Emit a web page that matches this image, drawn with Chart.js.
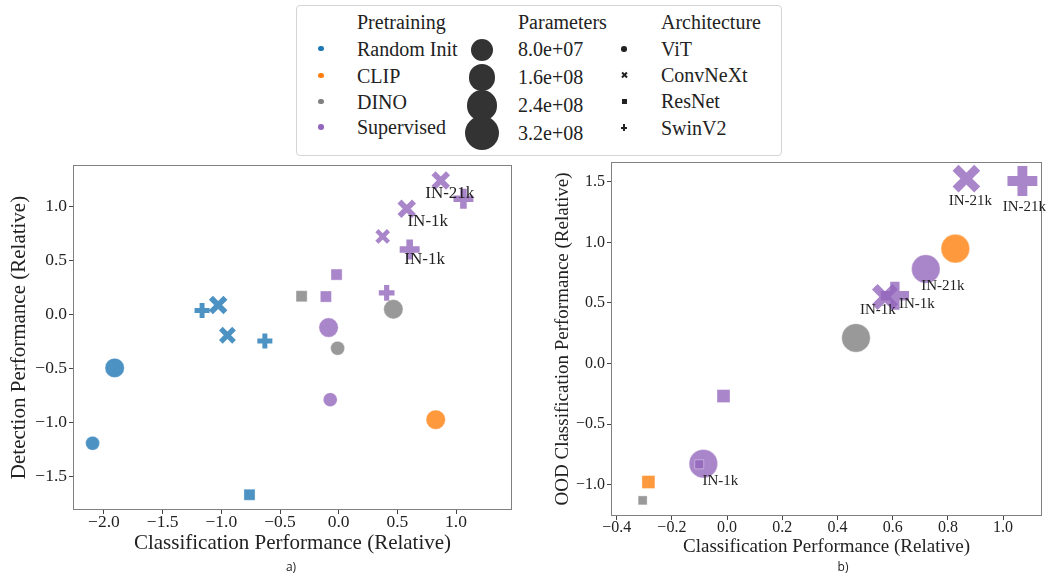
<!DOCTYPE html>
<html>
<head>
<meta charset="utf-8">
<title>Pretraining vs. performance</title>
<script src="https://cdn.jsdelivr.net/npm/chart.js@4.4.1/dist/chart.umd.min.js"></script>
<style>
  body { margin: 0; width: 1054px; height: 579px; position: relative; overflow: hidden; background: #fff; color: #222; font-family: "Liberation Serif", serif; }
  canvas, .abs { position: absolute; }
  #legend-box { left: 296px; top: 5px; width: 486px; height: 151px; border: 1px solid #d5d5d5; border-radius: 4px; box-sizing: border-box; }
  .lt { position: absolute; font-size: 20px; line-height: 20px; white-space: nowrap; }
  .cap { position: absolute; font-family: "Open Sans", sans-serif; font-size: 12px; line-height: 12px; transform: translateX(-50%); }
</style>
</head>
<body>
<div id="legend-box" class="abs"></div>
<canvas id="chart-a" width="525" height="400" style="left:0;top:160px"></canvas>
<canvas id="chart-b" width="524" height="400" style="left:530px;top:160px"></canvas>
<div class="cap" style="left:291px;top:561px">a)</div>
<div class="cap" style="left:843px;top:561px">b)</div>
<script>
const pretrainings = ["Random Init", "CLIP", "DINO", "Supervised"];
const pretrainColors = ["31,119,180", "255,127,14", "127,127,127", "148,103,189"];
const architectures = ["ViT", "ConvNeXt", "ResNet", "SwinV2"];
const paramSizes = [8.0e7, 1.6e8, 2.4e8, 3.2e8];

// a) classification vs detection
const aCls = [-2.097, -1.909, -1.027, -0.948, -1.164, -0.629, -0.760, -0.316, 0.466, -0.009, 0.827, -0.018, -0.109, -0.086, -0.072, 0.409, 0.375, 0.580, 0.605, 0.870, 1.063];
const aDet = [-1.190, -0.494, 0.088, -0.192, 0.036, -0.245, -1.665, 0.168, 0.048, -0.312, -0.972, 0.368, 0.165, -0.121, -0.787, 0.199, 0.720, 0.975, 0.600, 1.237, 1.068];
const aPretrain = [0, 0, 0, 0, 0, 0, 0, 2, 2, 2, 1, 3, 3, 3, 3, 3, 3, 3, 3, 3, 3];
const aArch = [0, 0, 1, 1, 3, 3, 2, 2, 0, 0, 0, 2, 2, 0, 0, 3, 1, 1, 3, 1, 3];
const aParams = [22, 86, 89, 65, 28, 28, 25, 25, 86, 22, 86, 25, 25, 86, 22, 35, 39, 89, 86, 89, 86]; // millions
const aTags = ["", "", "", "", "", "", "", "", "", "", "", "", "", "", "", "", "", "IN-1k", "IN-1k", "IN-21k", ""];
const aXTicks = [-2.0, -1.5, -1.0, -0.5, 0.0, 0.5, 1.0];
const aYTicks = [-1.5, -1.0, -0.5, 0.0, 0.5, 1.0];

// b) classification vs OOD classification
const bCls = [0.867, 1.070, 0.720, 0.572, 0.608, -0.013, -0.086, -0.101, 0.827, -0.285, 0.467, -0.306];
const bOod = [1.528, 1.508, 0.781, 0.550, 0.560, -0.269, -0.828, -0.833, 0.949, -0.979, 0.211, -1.131];
const bPretrain = [3, 3, 3, 3, 3, 3, 3, 3, 1, 1, 2, 2];
const bArch = [1, 3, 0, 1, 3, 2, 0, 2, 0, 2, 0, 2];
const bParams = [89, 88, 86, 80, 80, 38, 86, 25, 86, 38, 86, 25];
const bTags = ["IN-21k", "IN-21k", "IN-21k", "IN-1k", "IN-1k", "", "IN-1k", "", "", "", "", ""];
const bXTicks = [-0.4, -0.2, 0.0, 0.2, 0.4, 0.6, 0.8, 1.0];
const bYTicks = [-1.0, -0.5, 0.0, 0.5, 1.0, 1.5];

const SERIF = "'Liberation Serif', 'Times New Roman', serif";
const STYLES = ["circle", "crossRot", "rect", "cross"];
const SHAPE_K = [1, 1.05, 1.1, 1.03];
Chart.defaults.font.family = SERIF;
Chart.defaults.color = "#222";

// label nudges (px) so the tags sit like in the paper figure
const aNudge = { 17: [21, 13], 18: [15, 10], 19: [9, 13] };
const bNudge = { 0: [4, 22], 1: [2, 26], 2: [17, 17], 3: [-7, 13], 4: [22, 8], 6: [17, 17] };

const fmt = v => (v < 0 ? "\u2212" : "") + Math.abs(v).toFixed(1);

const framePlugin = {
  id: "frame",
  afterDatasetsDraw(chart) {
    const { ctx, chartArea: a } = chart;
    ctx.save();
    ctx.strokeStyle = "#808080";
    ctx.lineWidth = 1;
    ctx.strokeRect(a.left + 0.5, a.top + 0.5, a.right - a.left - 1, a.bottom - a.top - 1);
    ctx.restore();
  }
};

function tagPlugin(xs, ys, tags, nudge, size) {
  return {
    id: "tags",
    afterDraw(chart) {
      const { ctx, scales: { x, y } } = chart;
      ctx.save();
      ctx.font = size + "px " + SERIF;
      ctx.fillStyle = "#222";
      ctx.textAlign = "center";
      ctx.textBaseline = "middle";
      tags.forEach((t, i) => {
        if (!t) return;
        const [dx, dy] = nudge[i] || [12, 15];
        ctx.fillText(t, x.getPixelForValue(xs[i]) + dx, y.getPixelForValue(ys[i]) + dy);
      });
      ctx.restore();
    }
  };
}

function buildDatasets(xs, ys, pre, arch, params, sizeFn) {
  return pretrainings.map((name, k) => {
    const rgb = pretrainColors[k];
    const data = [];
    xs.forEach((v, i) => {
      if (pre[i] === k) data.push({ x: v, y: ys[i], p: params[i], arch: arch[i] });
    });
    return {
      label: name,
      data,
      clip: false,
      pointStyle: c => (c.raw ? STYLES[c.raw.arch] : "circle"),
      pointRadius: c => (c.raw ? sizeFn(c.raw.p) * SHAPE_K[c.raw.arch] : 5),
      pointBackgroundColor: `rgba(${rgb},0.8)`,
      pointBorderColor: c => (c.raw && (c.raw.arch === 1 || c.raw.arch === 3) ? `rgba(${rgb},0.8)` : "rgba(255,255,255,0.6)"),
      pointBorderWidth: c => {
        if (!c.raw) return 1;
        const r = sizeFn(c.raw.p) * SHAPE_K[c.raw.arch];
        if (c.raw.arch === 1) return 0.55 * r;
        if (c.raw.arch === 3) return 0.66 * r;
        return 0.6;
      }
    };
  });
}

function axis(opts) {
  return {
    type: "linear",
    min: opts.min,
    max: opts.max,
    afterBuildTicks: s => { s.ticks = opts.ticks.map(v => ({ value: v })); },
    afterFit: s => {
      if (opts.width) s.width = opts.width;
      if (opts.height) s.height = opts.height;
      s.paddingTop = s.paddingBottom = s.paddingLeft = s.paddingRight = 0;
    },
    ticks: { font: { size: opts.tickSize, lineHeight: 1 }, color: "#222", padding: opts.pad, maxRotation: 0, autoSkip: false, callback: fmt },
    grid: { drawOnChartArea: false, tickLength: opts.tickLen, color: "#808080", tickColor: "#444" },
    border: { display: false },
    title: { display: true, text: opts.title, font: { size: opts.titleSize }, color: "#222", padding: opts.titlePad }
  };
}

function makeChart(id, cfg) {
  return new Chart(document.getElementById(id), {
    type: "scatter",
    data: { datasets: buildDatasets(cfg.xs, cfg.ys, cfg.pre, cfg.arch, cfg.params, cfg.sizeFn) },
    plugins: [framePlugin, tagPlugin(cfg.xs, cfg.ys, cfg.tags, cfg.nudge, cfg.tagSize)],
    options: {
      responsive: false,
      animation: false,
      events: [],
      layout: { padding: cfg.padding, autoPadding: false },
      plugins: { legend: { display: false }, tooltip: { enabled: false } },
      scales: { x: axis(cfg.x), y: axis(cfg.y) }
    }
  });
}

makeChart("chart-a", {
  xs: aCls, ys: aDet, pre: aPretrain, arch: aArch, params: aParams, tags: aTags, nudge: aNudge, tagSize: 17,
  sizeFn: p => Math.sqrt(33.5 + 0.70 * p),
  padding: { top: 5, right: 13, bottom: 0, left: 0 },
  x: { min: -2.264, max: 1.477, ticks: aXTicks, height: 50, tickSize: 17.5, pad: 0, tickLen: 4, title: "Classification Performance (Relative)", titleSize: 21, titlePad: { top: 0, bottom: 4.4 } },
  y: { min: -1.806, max: 1.38, ticks: aYTicks, width: 73, tickSize: 17.5, pad: 2, tickLen: 4, title: "Detection Performance (Relative)", titleSize: 21, titlePad: { top: 6.4, bottom: 0 } }
});

makeChart("chart-b", {
  xs: bCls, ys: bOod, pre: bPretrain, arch: bArch, params: bParams, tags: bTags, nudge: bNudge, tagSize: 15,
  sizeFn: p => Math.sqrt(-36.5 + 2.80 * p),
  padding: { top: 2, right: 12, bottom: 0, left: 0 },
  x: { min: -0.4206, max: 1.141, ticks: bXTicks, height: 44, tickSize: 16, pad: 0, tickLen: 4, title: "Classification Performance (Relative)", titleSize: 19, titlePad: { top: 0, bottom: 1.9 } },
  y: { min: -1.26, max: 1.665, ticks: bYTicks, width: 81, tickSize: 16, pad: 2, tickLen: 4, title: "OOD Classification Performance (Relative)", titleSize: 19, titlePad: { top: 21.9, bottom: 0 } }
});

// legend box (three columns)
function put(el, left, top) {
  el.style.left = left + "px";
  el.style.top = top + "px";
  document.body.appendChild(el);
}
function text(t, left, cy) {
  const s = document.createElement("div");
  s.className = "lt";
  s.textContent = t;
  put(s, left, cy - 10);
}
function blob(cx, cy, w, h, color, radius, rot) {
  const s = document.createElement("div");
  s.className = "abs";
  s.style.width = w + "px";
  s.style.height = h + "px";
  s.style.background = color;
  s.style.borderRadius = radius || "0";
  if (rot) s.style.transform = "rotate(" + rot + "deg)";
  put(s, cx - w / 2, cy - h / 2);
}

text("Pretraining", 357, 21.5);
text("Parameters", 518, 21.5);
text("Architecture", 661, 21.5);

const preRows = [48.5, 75.5, 101.5, 127];
pretrainings.forEach((name, k) => {
  blob(321, preRows[k], 5.5, 5.5, `rgb(${pretrainColors[k]})`, "50%");
  text(name, 357, preRows[k]);
});

const paramCircleRows = [50, 77.3, 105.7, 133.3];
const paramTextRows = [49.3, 76.7, 105.3, 132.7];
paramSizes.forEach((p, k) => {
  const d = Math.sqrt(484 + (p - 8e7) / 8e7 * 224);
  blob(482, paramCircleRows[k], d, d, "#333", "50%");
  text(p.toExponential(1).replace("e+", "e+0"), 518, paramTextRows[k]);
});

const archRows = [49, 75, 101, 127.7];
architectures.forEach((name, k) => {
  const cy = archRows[k];
  if (k === 0) blob(624, cy, 5.5, 5.5, "#222", "50%");
  if (k === 1) { blob(624, cy, 7, 2.2, "#222", 0, 45); blob(624, cy, 7, 2.2, "#222", 0, -45); }
  if (k === 2) blob(624, cy, 5, 5, "#222");
  if (k === 3) { blob(624, cy, 6.5, 2.2, "#222"); blob(624, cy, 2.2, 6.5, "#222"); }
  text(name, 661, cy);
});
</script>
</body>
</html>
